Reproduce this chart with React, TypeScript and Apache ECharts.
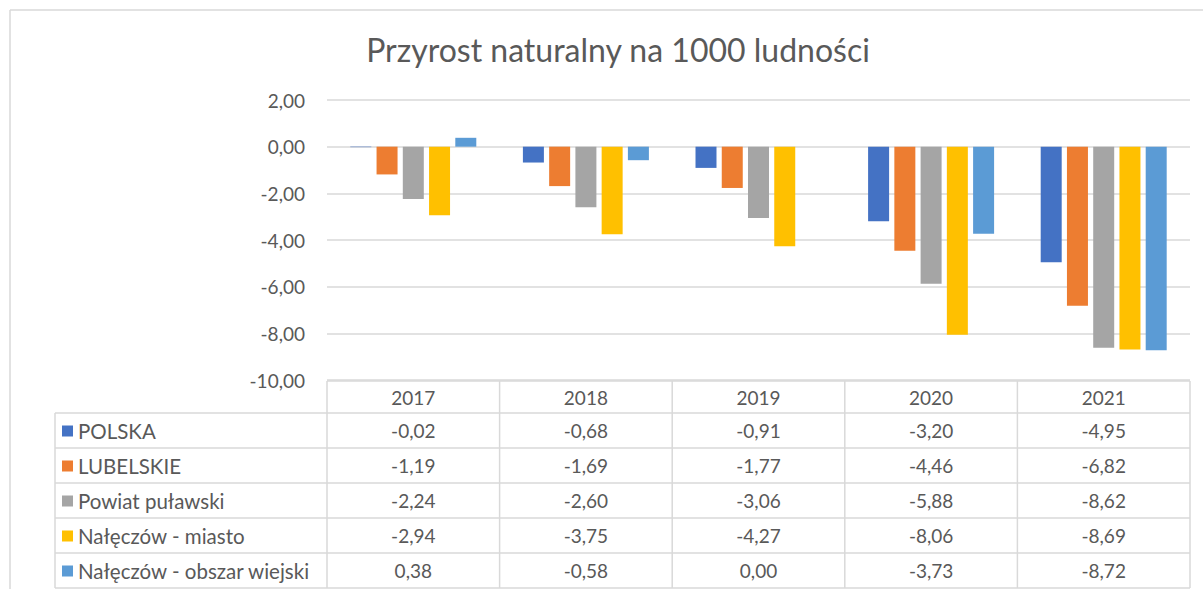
import React, { useEffect, useRef } from "react";
import * as echarts from "echarts";

const categories = ["2017", "2018", "2019", "2020", "2021"];
const seriesNames = [
  "POLSKA",
  "LUBELSKIE",
  "Powiat puławski",
  "Nałęczów - miasto",
  "Nałęczów - obszar wiejski",
];
const polska = [-0.02, -0.68, -0.91, -3.2, -4.95];
const lubelskie = [-1.19, -1.69, -1.77, -4.46, -6.82];
const powiat = [-2.24, -2.6, -3.06, -5.88, -8.62];
const naleczowMiasto = [-2.94, -3.75, -4.27, -8.06, -8.69];
const naleczowWies = [0.38, -0.58, 0.0, -3.73, -8.72];
const seriesValues = [polska, lubelskie, powiat, naleczowMiasto, naleczowWies];
const colors = ["#4472C4", "#ED7D31", "#A5A5A5", "#FFC000", "#5B9BD5"];

const FONT = "Lato, 'Open Sans', sans-serif";
const TEXT = "#595959";
const LINE = "#D9D9D9";
const FS = 19;
const FS_NAME = 20.5;

const fmt = (v: number) => v.toFixed(2).replace(".", ",");

export default function App() {
  const ref = useRef<HTMLDivElement>(null);
  useEffect(() => {
    if (!ref.current) return;
    const chart = echarts.init(ref.current, undefined, { renderer: "svg" });
    const W = 1203;
    const gridLeft = 327;
    const gridRight = 1190;
    const gridTop = 100;
    const gridBottom = 380;
    const colW = (gridRight - gridLeft) / categories.length;
    const headTop = 381;
    const headH = 32;
    const rowH = 35;
    const legLeft = 55;
    const tableBottom = headTop + headH + rowH * seriesNames.length;

    const lineStyle = { stroke: LINE, lineWidth: 1.5 };
    const g: any[] = [];
    g.push({ type: "line", shape: { x1: 10, y1: 10, x2: W, y2: 10 }, style: lineStyle, silent: true });
    g.push({ type: "line", shape: { x1: 10, y1: 10, x2: 10, y2: 589 }, style: lineStyle, silent: true });
    g.push({ type: "line", shape: { x1: gridLeft, y1: headTop, x2: gridRight, y2: headTop }, style: lineStyle });
    for (let r = 0; r <= seriesNames.length; r++) {
      const y = headTop + headH + r * rowH;
      g.push({ type: "line", shape: { x1: legLeft, y1: y, x2: gridRight, y2: y }, style: lineStyle });
    }
    g.push({ type: "line", shape: { x1: legLeft, y1: headTop + headH, x2: legLeft, y2: tableBottom }, style: lineStyle });
    for (let c = 0; c <= categories.length; c++) {
      const x = gridLeft + c * colW;
      g.push({ type: "line", shape: { x1: x, y1: headTop, x2: x, y2: tableBottom }, style: lineStyle });
    }
    categories.forEach((cat, c) => {
      g.push({
        type: "text",
        x: gridLeft + (c + 0.5) * colW,
        y: headTop + headH / 2,
        style: { text: cat, fill: TEXT, font: `${FS}px ${FONT}`, align: "center", verticalAlign: "middle" },
      });
    });
    seriesNames.forEach((name, r) => {
      const yc = headTop + headH + (r + 0.5) * rowH;
      g.push({ type: "rect", shape: { x: 62, y: yc - 5, width: 11, height: 11 }, style: { fill: colors[r] } });
      g.push({
        type: "text",
        x: 78,
        y: yc,
        style: { text: name, fill: TEXT, font: `${FS_NAME}px ${FONT}`, align: "left", verticalAlign: "middle" },
      });
      seriesValues[r].forEach((v, c) => {
        g.push({
          type: "text",
          x: gridLeft + (c + 0.5) * colW,
          y: yc,
          style: { text: fmt(v), fill: TEXT, font: `${FS}px ${FONT}`, align: "center", verticalAlign: "middle" },
        });
      });
    });

    chart.setOption({
      animation: false,
      backgroundColor: "#ffffff",
      title: {
        text: "Przyrost naturalny na 1000 ludności",
        left: 613,
        textAlign: "center",
        top: 28,
        textStyle: { fontFamily: FONT, fontSize: 32, fontWeight: "normal", color: TEXT },
      },
      grid: { left: gridLeft, right: W - gridRight, top: gridTop, height: gridBottom - gridTop },
      xAxis: {
        type: "category",
        data: categories,
        axisLine: { show: false },
        axisTick: { show: false },
        axisLabel: { show: false },
      },
      yAxis: {
        type: "value",
        min: -10,
        max: 2,
        interval: 2,
        axisLine: { show: false },
        axisTick: { show: false },
        axisLabel: {
          formatter: (v: number) => fmt(v),
          color: TEXT,
          fontFamily: FONT,
          fontSize: FS,
          margin: 22,
        },
        splitLine: { lineStyle: { color: LINE, width: 1.5 } },
      },
      series: seriesNames.map((name, i) => ({
        name,
        type: "bar",
        data: seriesValues[i],
        itemStyle: { color: colors[i] },
        barGap: "25%",
        barCategoryGap: "27%",
      })),
      graphic: g,
    });
    return () => chart.dispose();
  }, []);
  return (
    <div
      ref={ref}
      style={{ position: "fixed", left: 0, top: 0, width: 1203, height: 589, background: "#fff" }}
    />
  );
}
